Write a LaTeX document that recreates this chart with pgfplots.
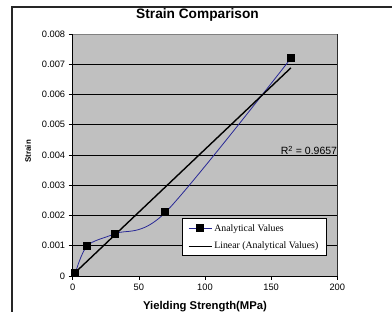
\documentclass[border=0pt]{standalone}
\usepackage{fontspec}
\setmainfont{Liberation Sans}
\newfontfamily\legfont{Liberation Serif}
\usepackage{pgfplots}
\pgfplotsset{compat=1.18}
\definecolor{plotbg}{RGB}{192,192,192}
\definecolor{series}{RGB}{40,40,150}
\definecolor{border}{RGB}{128,128,128}
\begin{document}
\begin{tikzpicture}
\useasboundingbox (0,0) rectangle (392pt,312pt);
\clip (0,0) rectangle (392pt,312pt);
\draw[line width=1.7pt, black!85] (12pt,-5pt) -- (12pt,305pt) -- (400pt,305pt);
\begin{axis}[
  at={(72.7pt,36pt)}, anchor=south west,
  scale only axis, width=264.6pt, height=242pt,
  xmin=0, xmax=200, ymin=0, ymax=0.008,
  xtick={0,50,100,150,200},
  xticklabels={0,50,100,150,200},
  ytick={0,0.001,0.002,0.003,0.004,0.005,0.006,0.007,0.008},
  yticklabels={0,0.001,0.002,0.003,0.004,0.005,0.006,0.007,0.008},
  scaled y ticks=false,
  /pgf/number format/assume math mode=true,
  xtick pos=bottom, ytick pos=left,
  tick align=outside, major tick length=4pt,
  tick style={black, line width=0.6pt},
  ymajorgrids, grid style={black, line width=0.8pt},
  axis background/.style={fill=plotbg},
  axis line style={black, line width=0.8pt},
  ticklabel style={font=\fontsize{9.3}{10}\selectfont},
  title={Strain Comparison},
  title style={font=\fontsize{13.7}{15}\selectfont\bfseries, at={(axis description cs:0.4717,1)}, anchor=base, yshift=10pt, inner sep=0pt},
  xlabel={Yielding Strength(MPa)},
  xlabel style={font=\fontsize{11.3}{13}\selectfont\bfseries, at={(axis description cs:0.5,0)}, anchor=base, yshift=-33.3pt, inner sep=0pt},
  ylabel={Strain},
  ylabel style={font=\fontsize{7.9}{9}\selectfont\bfseries, at={(axis description cs:-0.169,0.515)}, anchor=center, inner sep=0pt},
  legend style={at={(axis description cs:0.412,0.238)}, anchor=north west, draw=black, line width=0.8pt, fill=white, font=\fontsize{9.8}{11}\selectfont\legfont, row sep=5.5pt, inner xsep=6pt, inner ysep=3.5pt, cells={anchor=west}},
]
\addplot[series, line width=0.8pt, smooth, tension=0.5, mark=square*, mark size=3.5pt, mark options={black, fill=black, line width=0pt},
  legend image code/.code={\draw[series, line width=0.8pt] (0pt,0pt) -- (23pt,0pt); \draw[black, fill=black] plot[mark=square*, mark size=3.5pt] coordinates {(11.5pt,0pt)};}]
  coordinates {(2,0.0001) (11,0.001) (32,0.0014) (70,0.0021) (165,0.0072)};
\addlegendentry{Analytical Values}
\addplot[black, line width=1.4pt, no marks,
  legend image code/.code={\draw[black, line width=1.2pt] (0pt,0pt) -- (23pt,0pt);}]
  coordinates {(2,0.000119) (165,0.006884)};
\addlegendentry{Linear (Analytical Values)}
\draw[border, line width=0.9pt] (rel axis cs:0,1) -- (rel axis cs:1,1) -- (rel axis cs:1,0);
\node[anchor=base east, inner sep=0pt, font=\fontsize{10.5}{12}\selectfont] at (axis cs:200,0.004) {R\textsuperscript{2} = 0.9657};
\end{axis}
\end{tikzpicture}
\end{document}
